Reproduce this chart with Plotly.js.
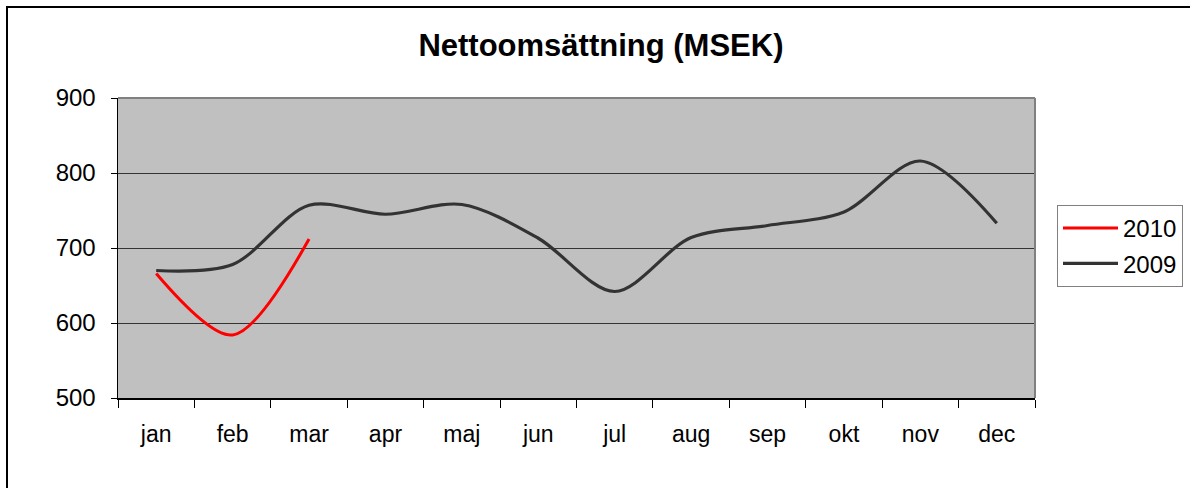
<!DOCTYPE html>
<html>
<head>
<meta charset="utf-8">
<script src="https://cdn.plot.ly/plotly-3.0.1.min.js"></script>
<style>
  html, body { margin:0; padding:0; background:#fff; overflow:hidden; }
  #frame { position:absolute; left:6px; top:6px; width:1200px; height:500px; border:2px solid #000; box-sizing:border-box; }
  #chart { position:absolute; left:0; top:0; width:1190px; height:488px; }
</style>
</head>
<body>
<div id="frame"></div>
<div id="chart"></div>
<script>
const months = ["jan","feb","mar","apr","maj","jun","jul","aug","sep","okt","nov","dec"];
const values2010 = [666, 584, 712];
const values2009 = [670, 678, 757, 745, 758, 713, 642, 714, 730, 748, 816, 733];
const yTicks = [500, 600, 700, 800, 900];

const traces = [
  {
    x: months.slice(0, values2010.length), y: values2010, name: "2010",
    type: "scatter", mode: "lines",
    line: { color: "#ff0000", width: 3, shape: "spline", smoothing: 0.9 },
    legendgroup: "a"
  },
  {
    x: months, y: values2009, name: "2009",
    type: "scatter", mode: "lines",
    line: { color: "#333333", width: 3.2, shape: "spline", smoothing: 0.9 },
    legendgroup: "b"
  }
];

const layout = {
  width: 1190, height: 488,
  margin: { l: 118, r: 155, t: 98, b: 90, autoexpand: false },
  paper_bgcolor: "rgba(0,0,0,0)",
  plot_bgcolor: "#c0c0c0",
  font: { family: "Liberation Sans, Arial, sans-serif", size: 24, color: "#000" },
  title: {
    text: "<b>Nettoomsättning (MSEK)</b>",
    font: { size: 31, color: "#000" },
    xref: "container", yref: "container",
    x: 0.505, y: 1 - 45/488, xanchor: "center", yanchor: "middle"
  },
  xaxis: {
    type: "category", categoryorder: "array", categoryarray: months,
    range: [-0.5, 11.5], tickson: "boundaries",
    ticks: "outside", ticklen: 8, tickcolor: "#000", tickwidth: 1,
    showline: true, linecolor: "#000", linewidth: 1.5,
    showgrid: false, ticklabelstandoff: 15,
    tickfont: { size: 23 }, fixedrange: true
  },
  yaxis: {
    range: [500, 900], tickvals: yTicks,
    ticks: "outside", ticklen: 6, tickcolor: "#000",
    showline: true, linecolor: "#000", linewidth: 1.5,
    showgrid: true, gridcolor: "#333", gridwidth: 1,
    zeroline: false, tickfont: { size: 24 }, ticklabelstandoff: 10, fixedrange: true
  },
  shapes: [
    { type: "line", xref: "paper", yref: "paper", x0: 0, x1: 1, y0: 1, y1: 1, line: { color: "#808080", width: 2 } },
    { type: "line", xref: "paper", yref: "paper", x0: 1, x1: 1, y0: 0, y1: 1, line: { color: "#808080", width: 2 } }
  ],
  showlegend: true,
  legend: {
    x: (1057 - 118) / 917, y: (398 - 205) / 300, xanchor: "left", yanchor: "top",
    bordercolor: "#808080", borderwidth: 1, bgcolor: "#fff",
    font: { size: 24 }, traceorder: "grouped", tracegroupgap: 1,
    itemwidth: 55
  }
};

Plotly.newPlot("chart", traces, layout, { displayModeBar: false, staticPlot: true });
</script>
</body>
</html>
